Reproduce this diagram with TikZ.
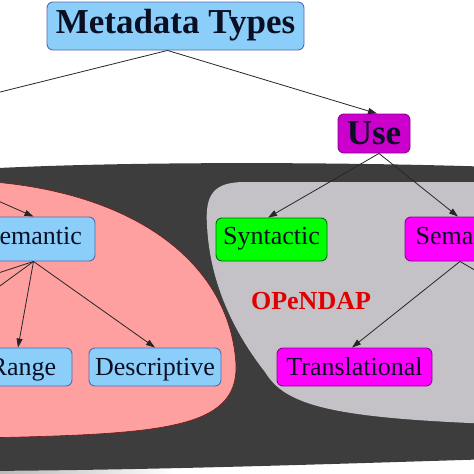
\documentclass[tikz,border=0pt]{standalone}
\usepackage{fontspec}
\setmainfont{Liberation Serif}
\usetikzlibrary{arrows.meta}
\definecolor{boxblue}{RGB}{140,206,250}
\definecolor{blueedge}{RGB}{85,105,175}
\definecolor{usemag}{RGB}{204,0,204}
\definecolor{mag}{RGB}{255,0,255}
\definecolor{magedge}{RGB}{140,0,150}
\definecolor{grn}{RGB}{0,255,0}
\definecolor{grnedge}{RGB}{0,110,0}
\definecolor{darkbg}{RGB}{60,61,60}
\definecolor{pinkbg}{RGB}{255,160,160}
\definecolor{pinkedge}{RGB}{120,20,20}
\definecolor{graybg}{RGB}{196,194,198}
\definecolor{odred}{RGB}{225,0,0}
\definecolor{txt}{RGB}{10,15,35}
\begin{document}
\begin{tikzpicture}[x=1pt,y=-1pt,
  box/.style={draw, rounded corners=6pt, line width=0.9pt, inner sep=0pt, align=center, text=txt},
  big/.style={font=\fontsize{35}{40}\selectfont\bfseries},
  med/.style={font=\fontsize{26}{30}\selectfont},
  rowtwo/.style={med, minimum height=44pt, text height=17pt, text depth=7pt},
  rowthree/.style={med, minimum height=38pt, text height=17pt, text depth=1pt},
  bluebox/.style={box, fill=boxblue, draw=blueedge},
  magbox/.style={box, fill=mag, draw=magedge},
  grnbox/.style={box, fill=grn, draw=grnedge},
  edge/.style={draw=black!85, line width=0.8pt},
  arr/.style={edge, -{Triangle[length=9pt,width=6pt]}},
]
\useasboundingbox (0,0) rectangle (474,474);
\clip (0,0) rectangle (474,474);

% background regions
\shade[left color=gray!55, right color=white] (0,468) rectangle (175,474);
\fill[darkbg] (-20,169) .. controls (120,161) and (350,162) .. (495,167)
  -- (495,459) .. controls (300,465) and (150,470) .. (-20,471) -- cycle;
\filldraw[fill=pinkbg, draw=pinkedge, line width=0.6pt]
  (-20,181) .. controls (130,190) and (230,260) .. (236,365)
  .. controls (238,430) and (160,434) .. (-20,438) -- cycle;
\fill[graybg] (495,182) -- (245,182) .. controls (213,182) and (205,195) .. (207,225)
  .. controls (210,290) and (240,340) .. (265,372)
  .. controls (285,405) and (330,418) .. (495,424) -- cycle;

% nodes
\node[bluebox, big, minimum width=257pt, minimum height=48pt, text height=24pt, text depth=9pt] (mt) at (175.5,26) {Metadata Types};
\node[box, fill=usemag, draw=magedge, big, minimum width=72pt, minimum height=39pt] (use) at (374,133.5) {Use};
\node[bluebox, rowtwo, minimum width=123pt] (seml) at (33.5,239) {Semantic};
\node[grnbox, rowtwo, minimum width=111pt, minimum height=43pt] (syn) at (271.5,239.5) {Syntactic};
\node[magbox, rowtwo, minimum width=118pt] (semr) at (464,239) {Semantic};
\node[bluebox, rowthree, minimum width=98pt] (range) at (23,367) {Range};
\node[bluebox, rowthree, minimum width=132pt] (desc) at (155,367) {Descriptive};
\node[magbox, rowthree, minimum width=155pt] (trans) at (354.5,367) {Translational};
\node[inner sep=0pt, text=odred, font=\fontsize{26}{30}\selectfont\bfseries] (od) at (311,301) {OPeNDAP};

% off-canvas ends
\coordinate (offA) at (-20,97);
\coordinate (offB) at (495,282);
\coordinate (offC) at (-20,193);
\coordinate (offD) at (-20,279);
\coordinate (offE) at (-20,300.5);

% connectors
\draw[edge] ([xshift=-8pt]mt.south) -- (offA);
\draw[arr] ([xshift=-8pt]mt.south) -- ([xshift=3pt]use.north);
\draw[arr] ([xshift=5pt]use.south) -- ([xshift=-3.5pt]syn.north);
\draw[arr] ([xshift=5pt]use.south) -- ([xshift=-6pt]semr.north);
\draw[arr] ([xshift=-4pt]semr.south) -- ([xshift=-2.5pt]trans.north);
\draw[edge] ([xshift=-4pt]semr.south) -- (offB);
\draw[arr] (offC) -- (seml.north);
\draw[arr] (seml.south) -- ([xshift=-5pt]range.north);
\draw[arr] (seml.south) -- (desc.north);
\draw[edge] (seml.south) -- (offD);
\draw[edge] (seml.south) -- (offE);
\end{tikzpicture}
\end{document}
